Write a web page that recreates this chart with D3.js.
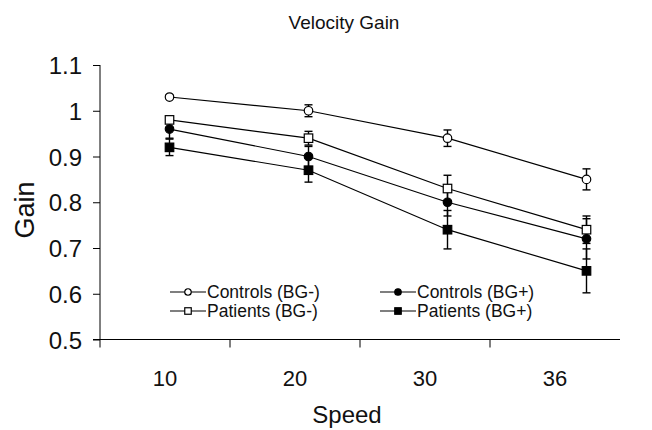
<!DOCTYPE html>
<html><head><meta charset="utf-8">
<script src="https://cdn.jsdelivr.net/npm/d3@7"></script>
<style>body{margin:0;background:#fff}text{font-family:"Liberation Sans",Arial,sans-serif;fill:#111}</style>
</head><body><svg id="c" width="652" height="430"></svg>
<script>
const speeds = ["10", "20", "30", "36"];
const yTicks = [0.5, 0.6, 0.7, 0.8, 0.9, 1.0, 1.1];
const yTickLabels = ["0.5", "0.6", "0.7", "0.8", "0.9", "1", "1.1"];
const seriesNames = ["Controls (BG-)", "Patients (BG-)", "Controls (BG+)", "Patients (BG+)"];
const controlsMinus = [1.03, 1.00, 0.94, 0.85];
const controlsMinusSE = [0.004, 0.013, 0.018, 0.023];
const patientsMinus = [0.98, 0.94, 0.83, 0.74];
const patientsMinusSE = [0.006, 0.015, 0.029, 0.030];
const controlsPlus = [0.96, 0.90, 0.80, 0.72];
const controlsPlusSE = [0.020, 0.022, 0.030, 0.044];
const patientsPlus = [0.92, 0.87, 0.74, 0.65];
const patientsPlusSE = [0.018, 0.026, 0.042, 0.048];

const series = [
  {name: seriesNames[0], v: controlsMinus, se: controlsMinusSE, shape: "circle", fill: "#fff"},
  {name: seriesNames[1], v: patientsMinus, se: patientsMinusSE, shape: "square", fill: "#fff"},
  {name: seriesNames[2], v: controlsPlus, se: controlsPlusSE, shape: "circle", fill: "#000"},
  {name: seriesNames[3], v: patientsPlus, se: patientsPlusSE, shape: "square", fill: "#000"}
];

const svg = d3.select("#c");
const axisX = d3.scaleBand().domain(speeds).range([100, 620]);
const pointX = d3.scaleBand().domain(speeds).range([100, 656]);
const y = d3.scaleLinear().domain([0.5, 1.1]).range([339.5, 65]);

// title
svg.append("text").attr("x", 344).attr("y", 29).attr("text-anchor", "middle")
  .style("font-size", "19px").text("Velocity Gain");

// y axis
const ya = svg.append("g").attr("transform", "translate(100,0)")
  .call(d3.axisLeft(y).tickValues(yTicks).tickFormat((d, i) => yTickLabels[i]).tickSize(7).tickPadding(11));
ya.select(".domain").attr("stroke", "#000").attr("d", `M0,${y(1.1)}V${y(0.5)}`);
ya.selectAll(".tick line").attr("stroke", "#000");
ya.selectAll(".tick text").style("font-size", "24px").style("font-family", "Liberation Sans, Arial, sans-serif").attr("fill", "#111").attr("dy", "0.36em");

// x axis
const xa = svg.append("g").attr("transform", `translate(0,${y(0.5)})`);
xa.append("line").attr("x1", 93).attr("x2", 620).attr("stroke", "#000");
xa.selectAll("line.sep").data(speeds).join("line").attr("class", "sep")
  .attr("x1", d => axisX(d)).attr("x2", d => axisX(d)).attr("y1", 0).attr("y2", 8).attr("stroke", "#000");
xa.selectAll("text").data(speeds).join("text")
  .attr("x", d => axisX(d) + axisX.bandwidth() / 2).attr("y", 46)
  .attr("text-anchor", "middle").style("font-size", "22px").text(d => d);

// axis titles
svg.append("text").attr("x", 347).attr("y", 423).attr("text-anchor", "middle")
  .style("font-size", "24px").text("Speed");
svg.append("text").attr("transform", "translate(34,210) rotate(-90)").attr("text-anchor", "middle")
  .style("font-size", "27px").text("Gain");

const px = d => pointX(d) + pointX.bandwidth() / 2;
const line = d3.line().x(d => px(d.s)).y(d => y(d.v));

function marker(g, shape, fill, size) {
  if (shape === "circle") {
    g.append("circle").attr("r", size / 2).attr("fill", fill).attr("stroke", "#000").attr("stroke-width", 1.2);
  } else {
    g.append("rect").attr("x", -size / 2).attr("y", -size / 2).attr("width", size).attr("height", size)
      .attr("fill", fill).attr("stroke", "#000").attr("stroke-width", 1.2);
  }
}

// error bars (behind)
series.forEach(s => {
  const pts = speeds.map((sp, i) => ({s: sp, v: s.v[i], e: s.se[i]}));
  const g = svg.append("g").attr("stroke", "#000").attr("stroke-width", 1.4);
  pts.forEach(p => {
    const x = px(p.s), y1 = y(p.v + p.e), y2 = y(p.v - p.e);
    g.append("line").attr("x1", x).attr("x2", x).attr("y1", y1).attr("y2", y2);
    g.append("line").attr("x1", x - 4).attr("x2", x + 4).attr("y1", y1).attr("y2", y1);
    g.append("line").attr("x1", x - 4).attr("x2", x + 4).attr("y1", y2).attr("y2", y2);
  });
});
// lines and markers
series.forEach(s => {
  const pts = speeds.map((sp, i) => ({s: sp, v: s.v[i]}));
  svg.append("path").datum(pts).attr("d", line).attr("fill", "none").attr("stroke", "#000").attr("stroke-width", 1.2);
  pts.forEach(p => {
    const g = svg.append("g").attr("transform", `translate(${px(p.s)},${y(p.v)})`);
    marker(g, s.shape, s.fill, 8.5);
  });
});

// legend
const legPos = [[170, 292], [170, 311], [380, 292], [380, 311]];
series.forEach((s, i) => {
  const [lx, ly] = legPos[i];
  const g = svg.append("g").attr("transform", `translate(${lx},${ly})`);
  g.append("line").attr("x1", 0).attr("x2", 36).attr("stroke", "#000").attr("stroke-width", 1.2);
  const m = g.append("g").attr("transform", "translate(18,0)");
  marker(m, s.shape, s.fill, 6.5);
  g.append("text").attr("x", 37).attr("y", 0).attr("dy", "0.35em").style("font-size", "17.5px").text(s.name);
});
</script></body></html>
